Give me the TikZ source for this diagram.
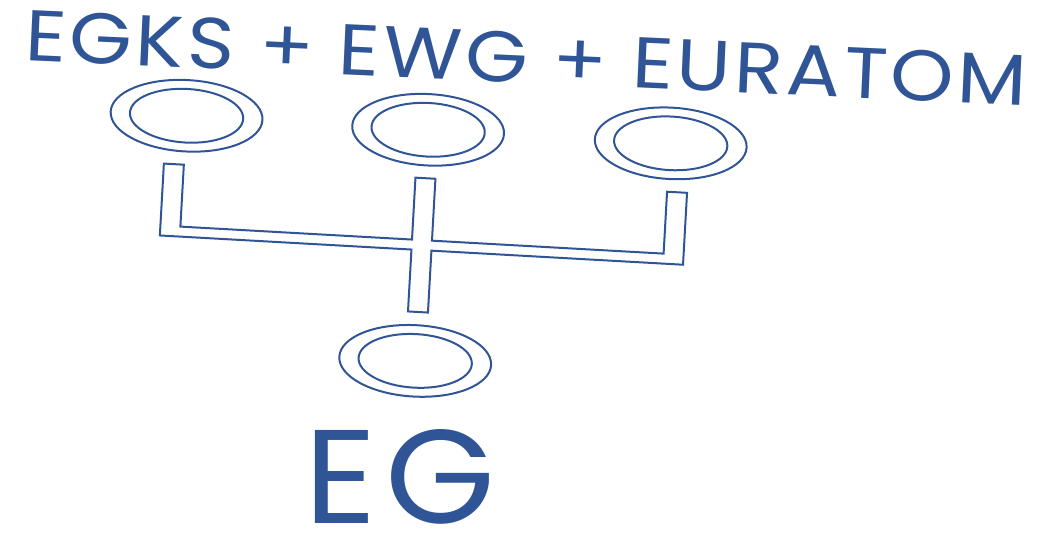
\documentclass[tikz,border=0pt]{standalone}
\usepackage{fontspec}
\setmainfont{Poppins}
\definecolor{egblue}{RGB}{47,85,151}
\tikzset{every picture/.style={line width=0.75pt}}
\tikzset{
  ring/.style={draw=egblue, line width=1.5pt},
  hand/.style={text=egblue, inner sep=0pt}
}

\begin{document}
\begin{tikzpicture}[x=0.75pt,y=0.75pt,yscale=-1,xscale=1]
	\useasboundingbox (0,0) rectangle (1040,545);
	
	%Text Node [id:title]
	\node [hand, rotate=-2.6, xscale=1.12, anchor=base, font=\fontsize{54}{54}\selectfont\addfontfeatures{LetterSpace=4}] (title) at (525,83) {EGKS + EWG + EURATOM};
	%Text Node [id:eg]
	\node [hand, anchor=base, xscale=1.06, font=\fontsize{100}{100}\selectfont\addfontfeatures{LetterSpace=6}] (eg) at (400,523) {EG};
	
	\begin{scope}[rotate around={3.2:(420,240)}]
	\coordinate (egks) at (180,129);
	\coordinate (ewg) at (422,129.5);
	\coordinate (euratom) at (665,129.5);
	\coordinate (egring) at (422,361);
	
	%Shape: Ellipse [id:dp egks]
	\draw [ring] (egks) ellipse (76 and 35.7) ;
	\draw [ring] (egks) ellipse (56.7 and 26.8) ;
	%Shape: Ellipse [id:dp ewg]
	\draw [ring] (ewg) ellipse (76 and 35.7) ;
	\draw [ring] (ewg) ellipse (56.7 and 26.8) ;
	%Shape: Ellipse [id:dp euratom]
	\draw [ring] (euratom) ellipse (76 and 35.7) ;
	\draw [ring] (euratom) ellipse (56.7 and 26.8) ;
	%Shape: Ellipse [id:dp eg]
	\draw [ring] (egring) ellipse (76 and 35.7) ;
	\draw [ring] (egring) ellipse (56.7 and 26.8) ;
	
	%Shape: Polygon [id:ds fork]
	\draw [ring, line join=miter] (160,178) -- (180,178) -- (180,240) -- (412,240) -- (412,178) -- (432,178) -- (432,240) -- (664,240) -- (664,178) -- (684,178) -- (684,250) -- (432,250) -- (432,312) -- (412,312) -- (412,250) -- (160,250) -- cycle ;
	\end{scope}
	
\end{tikzpicture}
\end{document}
